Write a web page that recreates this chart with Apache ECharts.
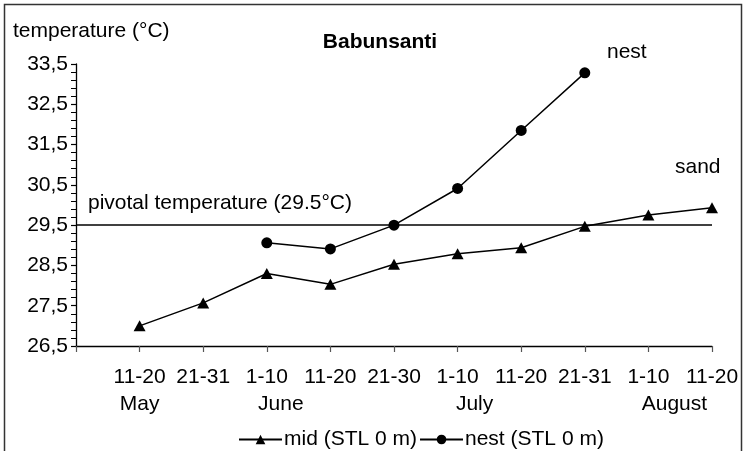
<!DOCTYPE html>
<html>
<head>
<meta charset="utf-8">
<script src="https://cdn.jsdelivr.net/npm/echarts@6/dist/echarts.min.js"></script>
<style>
  html, body { margin: 0; padding: 0; background: #fff; }
  #chart { width: 744px; height: 451px; }
</style>
</head>
<body>
<div id="chart"></div>
<script>
// ---- data ----
const periods = ['11-20', '21-31', '1-10', '11-20', '21-30', '1-10', '11-20', '21-31', '1-10', '11-20'];
const months  = ['May', '', 'June', '', '', 'July', '', '', 'August', ''];
const yTicks  = [26.5, 27.5, 28.5, 29.5, 30.5, 31.5, 32.5, 33.5];
const midSTL  = [27.0, 27.57, 28.30, 28.03, 28.53, 28.79, 28.94, 29.47, 29.75, 29.93];
const nestSTL = [null, null, 29.06, 28.91, 29.50, 30.41, 31.85, 33.28, null, null];
const pivotal = 29.5;
const seriesNames = ['mid (STL 0 m)', 'nest (STL 0 m)'];

const FONT = '"Liberation Sans", Arial, sans-serif';
const FS = 21;

function toPairs(arr) {
  return arr.map((v, i) => [i + 1, v]);
}

// month label shift (style only)
const monthPad = { 'May': 0, 'June': 28, 'July': 34, 'August': 52 };

const chart = echarts.init(document.getElementById('chart'), null, { renderer: 'canvas' });

const baseX = {
  type: 'value',
  min: 0,
  max: periods.length,
  interval: 1,
  splitLine: { show: false },
  position: 'bottom'
};

const option = {
  animation: false,
  backgroundColor: '#fff',
  textStyle: { fontFamily: FONT },
  title: {
    text: 'Babunsanti',
    left: 380,
    top: 32,
    textAlign: 'center',
    padding: 0,
    textStyle: { fontFamily: FONT, fontSize: FS, fontWeight: 'bold', color: '#000' }
  },
  grid: { left: 76, right: 32, top: 64, bottom: 105, containLabel: false },
  xAxis: [
    Object.assign({}, baseX, {
      axisLine: { show: true, lineStyle: { color: '#000', width: 1.3 } },
      axisTick: { show: true, length: 6, inside: false, lineStyle: { color: '#555', width: 1.2 } },
      axisLabel: {
        margin: 18,
        color: '#000',
        fontFamily: FONT,
        fontSize: FS,
        lineHeight: 27,
        showMinLabel: true,
        showMaxLabel: true,
        formatter: function (v) {
          if (v < 1 || v > periods.length) return '';
          return periods[v - 1];
        }
      }
    }),
    Object.assign({}, baseX, {
      axisLine: { show: false },
      axisTick: { show: false },
      axisLabel: {
        margin: 45,
        color: '#000',
        fontFamily: FONT,
        fontSize: FS,
        lineHeight: 27,
        showMinLabel: true,
        showMaxLabel: true,
        formatter: function (v) {
          if (v < 1 || v > months.length || !months[v - 1]) return '';
          const m = months[v - 1];
          return '{m' + (monthPad[m] || 0) + '|' + m + '}';
        },
        rich: (function () {
          const r = {};
          Object.keys(monthPad).forEach(k => {
            r['m' + monthPad[k]] = { fontFamily: FONT, fontSize: FS, lineHeight: 27, color: '#000', padding: [0, 0, 0, monthPad[k]] };
          });
          return r;
        })()
      }
    })
  ],
  yAxis: {
    type: 'value',
    min: yTicks[0],
    max: yTicks[yTicks.length - 1],
    interval: 1,
    splitLine: { show: false },
    axisLine: { show: true, lineStyle: { color: '#000', width: 1.3 } },
    axisTick: { show: true, length: 5, inside: false, lineStyle: { color: '#000', width: 1.2 } },
    minorTick: { show: true, splitNumber: 5, length: 5, lineStyle: { color: '#000', width: 1 } },
    axisLabel: {
      margin: 8,
      color: '#000',
      fontFamily: FONT,
      fontSize: FS,
      formatter: v => v.toFixed(1).replace('.', ',')
    }
  },
  legend: {
    left: 238,
    top: 429,
    itemWidth: 43,
    itemHeight: 12,
    itemGap: 2,
    padding: 0,
    textStyle: { fontFamily: FONT, fontSize: FS, color: '#000', padding: [0, 0, 0, -3] },
    data: seriesNames
  },
  series: [
    {
      name: seriesNames[0],
      type: 'line',
      xAxisIndex: 0,
      data: toPairs(midSTL),
      symbol: 'triangle',
      symbolSize: [12, 11],
      itemStyle: { color: '#000' },
      lineStyle: { color: '#000', width: 1.5 },
      markLine: {
        silent: true,
        symbol: 'none',
        label: { show: false },
        lineStyle: { color: '#000', width: 1.5, type: 'solid' },
        data: [{ yAxis: pivotal }]
      }
    },
    {
      name: seriesNames[1],
      type: 'line',
      xAxisIndex: 0,
      data: toPairs(nestSTL),
      symbol: 'circle',
      symbolSize: 11,
      itemStyle: { color: '#000' },
      lineStyle: { color: '#000', width: 1.5 }
    }
  ],
  graphic: [
    {
      type: 'rect',
      silent: true,
      shape: { x: 4.5, y: 4.5, width: 737, height: 470 },
      style: { fill: 'none', stroke: '#333', lineWidth: 1.5 }
    },
    {
      type: 'text', left: 13, top: 21,
      style: { text: 'temperature (°C)', font: FS + 'px ' + FONT, fill: '#000' }
    },
    {
      type: 'text', left: 88, top: 193,
      style: { text: 'pivotal temperature (29.5°C)', font: FS + 'px ' + FONT, fill: '#000' }
    },
    {
      type: 'text', left: 607, top: 42,
      style: { text: 'nest', font: FS + 'px ' + FONT, fill: '#000' }
    },
    {
      type: 'text', left: 675, top: 157,
      style: { text: 'sand', font: FS + 'px ' + FONT, fill: '#000' }
    }
  ]
};

chart.setOption(option);
</script>
</body>
</html>
